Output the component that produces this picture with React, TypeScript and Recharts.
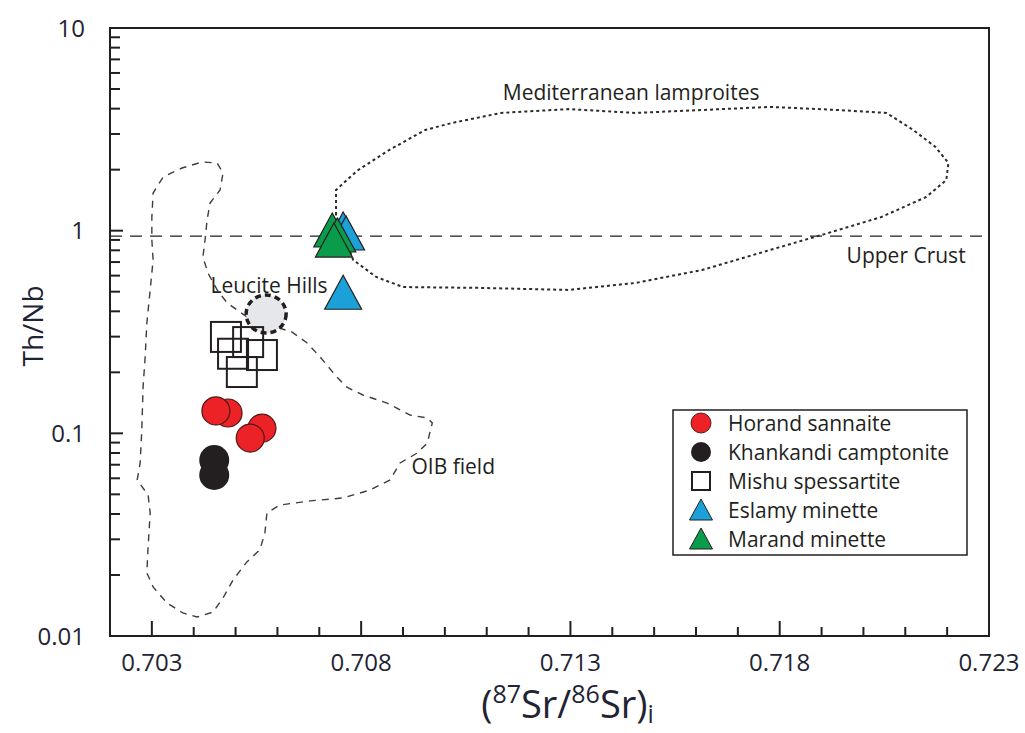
import React from "react";
import {
  ScatterChart,
  Scatter,
  XAxis,
  YAxis,
  Label,
  ReferenceLine,
  ReferenceDot,
  ReferenceArea,
} from "recharts";

const ink = "#231f20";
const tickInk = "#1f2433";
const font = "Open Sans";

// axis ticks
const srTicks = [
  0.702, 0.703, 0.704, 0.705, 0.706, 0.707, 0.708, 0.709, 0.71, 0.711, 0.712,
  0.713, 0.714, 0.715, 0.716, 0.717, 0.718, 0.719, 0.72, 0.721, 0.722, 0.723,
];
const srLabelled = [0.703, 0.708, 0.713, 0.718, 0.723];
const thnbTicks = [
  0.01, 0.02, 0.03, 0.04, 0.05, 0.06, 0.07, 0.08, 0.09,
  0.1, 0.2, 0.3, 0.4, 0.5, 0.6, 0.7, 0.8, 0.9,
  1, 2, 3, 4, 5, 6, 7, 8, 9, 10,
];
const thnbLabelled = [0.01, 0.1, 1, 10];

// samples
const horandSr = [0.70482, 0.70453, 0.70563, 0.70535];
const horandThNb = [0.126, 0.129, 0.106, 0.0948];

const khankandiSr = [0.70449, 0.70449];
const khankandiThNb = [0.0738, 0.0623];

const mishuSr = [0.70477, 0.7053, 0.70494, 0.70563, 0.70515];
const mishuThNb = [0.299, 0.282, 0.247, 0.2434, 0.2007];

const eslamySr = [0.70757, 0.70764, 0.70757];
const eslamyThNb = [0.985, 0.941, 0.48];

const marandSr = [0.70731, 0.70743, 0.70735];
const marandThNb = [0.974, 0.92, 0.869];

// reference fields
const oibSr = [
  0.70527, 0.7048, 0.70456, 0.70434, 0.70422, 0.70427, 0.70432, 0.70439, 0.70463, 0.7047,
  0.70456, 0.7042, 0.70372, 0.70327, 0.70303, 0.703, 0.703, 0.70303, 0.70296, 0.70288,
  0.70284, 0.70279, 0.70276, 0.70272, 0.70265, 0.70291, 0.70296, 0.70291, 0.70288, 0.70303,
  0.70336, 0.70374, 0.70408, 0.70446, 0.7047, 0.70494, 0.70527, 0.70558, 0.7057, 0.70575,
  0.70606, 0.70678, 0.70757, 0.70821, 0.70869, 0.70893, 0.70934, 0.70958, 0.7097, 0.70958,
  0.70917, 0.70862, 0.70804, 0.70766, 0.70742, 0.70702, 0.70671, 0.70635, 0.70582, 0.70527,
];
const oibThNb = [
  0.375, 0.44, 0.51, 0.618, 0.741, 0.899, 1.129, 1.369, 1.587, 1.925,
  2.157, 2.182, 2.038, 1.84, 1.534, 1.168, 0.899, 0.717, 0.51, 0.35,
  0.238, 0.169, 0.1039, 0.0714, 0.0589, 0.0496, 0.0405, 0.0275, 0.0205, 0.01745,
  0.01455, 0.01299, 0.01241, 0.01313, 0.0154, 0.0189, 0.0232, 0.0266, 0.0322, 0.0405,
  0.0443, 0.0464, 0.048, 0.0525, 0.0589, 0.0714, 0.0799, 0.0896, 0.1125, 0.119,
  0.1231, 0.1411, 0.1546, 0.169, 0.1896, 0.238, 0.279, 0.316, 0.342, 0.375,
];

const lampSr = [
  0.7074, 0.7074, 0.70766, 0.70793, 0.70867, 0.70953, 0.71017, 0.71134, 0.71295, 0.71455,
  0.71615, 0.71778, 0.71938, 0.72055, 0.72119, 0.72172, 0.72203, 0.72198, 0.7215, 0.72043,
  0.71916, 0.71777, 0.71615, 0.71455, 0.71295, 0.71082, 0.709, 0.70836, 0.70781, 0.7074,
];
const lampThNb = [
  1.195, 1.587, 1.778, 1.992, 2.5, 3.14, 3.4, 3.81, 3.98, 3.81,
  3.94, 4.08, 3.94, 3.81, 3.14, 2.59, 2.157, 1.778, 1.466, 1.168,
  0.974, 0.803, 0.64, 0.552, 0.51, 0.522, 0.527, 0.591, 0.717, 1.195,
];

const leuciteSr = [0.70573];
const leuciteThNb = [0.388];

const upperCrustThNb = 0.94;

const zip = (xs: number[], ys: number[]) => xs.map((sr, i) => ({ sr, thnb: ys[i] }));

const isOneOf = (v: number, list: number[]) => list.some((t) => Math.abs(t - v) < 1e-9);

const SrTick = (props: any) => {
  const { x, y, payload } = props;
  const major = isOneOf(payload.value, srLabelled);
  return (
    <g>
      <line x1={x} x2={x} y1={y} y2={y - (major ? 15 : 9)} stroke={ink} strokeWidth={2} />
      {major && (
        <text x={x} y={y + 35} textAnchor="middle" fontFamily={font} fontSize={24} fill={tickInk}>
          {String(payload.value)}
        </text>
      )}
    </g>
  );
};

const ThNbTick = (props: any) => {
  const { x, y, payload } = props;
  const major = isOneOf(payload.value, thnbLabelled);
  return (
    <g>
      <line x1={x} x2={x + (major ? 13 : 10)} y1={y} y2={y} stroke={ink} strokeWidth={2} />
      {major && (
        <text x={x - 25} y={y + 8.5} textAnchor="end" fontFamily={font} fontSize={24} fill={tickInk}>
          {String(payload.value)}
        </text>
      )}
    </g>
  );
};

const SrTitle = (props: any) => {
  const { x, width, y } = props.viewBox;
  return (
    <text x={x + width / 2 + 18} y={y + 82} textAnchor="middle" fontFamily={font} fontSize={38} fill={tickInk}>
      (<tspan fontSize={25} dy={-15}>87</tspan>
      <tspan dy={15}>Sr/</tspan>
      <tspan fontSize={25} dy={-15}>86</tspan>
      <tspan dy={15}>Sr)</tspan>
      <tspan fontSize={25} dy={5}>i</tspan>
    </text>
  );
};

const ThNbTitle = (props: any) => {
  const { x, y, height } = props.viewBox;
  const cx = x + 32;
  const cy = y + height / 2 - 6;
  return (
    <text
      x={cx}
      y={cy}
      transform={`rotate(-90 ${cx} ${cy})`}
      textAnchor="middle"
      dominantBaseline="central"
      fontFamily={font}
      fontSize={28}
      fill={tickInk}
    >
      Th/Nb
    </text>
  );
};

const triangle = (cx: number, cy: number, up: number, down: number, half: number) =>
  `${cx},${cy - up} ${cx - half},${cy + down} ${cx + half},${cy + down}`;

const Empty = () => <g />;

const series = [
  { name: "Horand sannaite", kind: "circle", fill: "#ec2227" },
  { name: "Khankandi camptonite", kind: "dot", fill: ink },
  { name: "Mishu spessartite", kind: "square", fill: "none" },
  { name: "Eslamy minette", kind: "triangle", fill: "#1ba0d8" },
  { name: "Marand minette", kind: "triangle", fill: "#0a9c4a" },
];

const LegendMarker = ({ kind, fill, cx, cy }: any) => {
  if (kind === "circle") return <circle cx={cx} cy={cy} r={10} fill={fill} stroke="#5a1b1b" strokeWidth={1} />;
  if (kind === "dot") return <circle cx={cx} cy={cy} r={10} fill={fill} />;
  if (kind === "square")
    return <rect x={cx - 9} y={cy - 9} width={18} height={18} fill="none" stroke={ink} strokeWidth={2} />;
  return <polygon points={triangle(cx, cy, 11, 10, 11.5)} fill={fill} stroke={ink} strokeWidth={1} />;
};

const SampleLegend = () => (
  <svg width={298} height={149} style={{ position: "absolute", left: 671, top: 408 }}>
    <rect x={2} y={2} width={294} height={145} fill="#fff" stroke={ink} strokeWidth={1.5} />
    {series.map((s, i) => (
      <g key={s.name}>
        <LegendMarker kind={s.kind} fill={s.fill} cx={30} cy={15 + i * 29} />
        <text x={57} y={15 + i * 29} dominantBaseline="central" fontFamily={font} fontSize={21} fill={ink}>
          {s.name}
        </text>
      </g>
    ))}
  </svg>
);

const fieldLabel = (value: string) => ({
  value,
  position: "center" as const,
  fontFamily: font,
  fontSize: 21,
  fill: ink,
});

export default function App() {
  return (
    <div style={{ position: "absolute", left: 0, top: 0, width: 1025, height: 733, background: "#fff" }}>
      <ScatterChart width={1025} height={733} margin={{ top: 28, right: 36, bottom: 0, left: 0 }}>
        <XAxis
          type="number"
          dataKey="sr"
          domain={[0.702, 0.723]}
          ticks={srTicks}
          interval={0}
          tickSize={0}
          tickMargin={0}
          tickLine={false}
          tick={<SrTick />}
          axisLine={{ stroke: ink, strokeWidth: 2 }}
          height={97}
          allowDataOverflow
        >
          <Label content={<SrTitle />} />
        </XAxis>
        <YAxis
          type="number"
          dataKey="thnb"
          scale="log"
          domain={[0.01, 10]}
          ticks={thnbTicks}
          interval={0}
          tickSize={0}
          tickMargin={0}
          tickLine={false}
          tick={<ThNbTick />}
          axisLine={{ stroke: ink, strokeWidth: 2 }}
          width={110}
          allowDataOverflow
        >
          <Label content={<ThNbTitle />} />
        </YAxis>

        <ReferenceArea x1={0.702} x2={0.723} y1={0.01} y2={10} fill="none" stroke={ink} strokeWidth={2} />
        <ReferenceLine y={upperCrustThNb} stroke={ink} strokeWidth={1.4} strokeDasharray="12 8" />

        {/* OIB field */}
        <Scatter
          data={zip(oibSr, oibThNb)}
          line={{ stroke: "#3d3d3d", strokeWidth: 1.4, strokeDasharray: "7 6" }}
          lineType="joint"
          shape={<Empty />}
          isAnimationActive={false}
        />
        {/* Mediterranean lamproites */}
        <Scatter
          data={zip(lampSr, lampThNb)}
          line={{ stroke: "#2b2b2b", strokeWidth: 2, strokeDasharray: "3 3" }}
          lineType="joint"
          shape={<Empty />}
          isAnimationActive={false}
        />
        {/* Leucite Hills */}
        <Scatter
          data={zip(leuciteSr, leuciteThNb)}
          isAnimationActive={false}
          shape={(p: any) => (
            <ellipse cx={p.cx} cy={p.cy} rx={20} ry={19} fill="#e6e7ea" stroke={ink} strokeWidth={3.5} strokeDasharray="6 4" />
          )}
        />

        <Scatter
          name="Mishu spessartite"
          data={zip(mishuSr, mishuThNb)}
          isAnimationActive={false}
          shape={(p: any) => (
            <rect x={p.cx - 15} y={p.cy - 15} width={30} height={30} fill="none" stroke={ink} strokeWidth={2} />
          )}
        />
        <Scatter
          name="Horand sannaite"
          data={zip(horandSr, horandThNb)}
          isAnimationActive={false}
          shape={(p: any) => <circle cx={p.cx} cy={p.cy} r={14} fill="#ec2227" stroke="#4a1a1a" strokeWidth={1.2} />}
        />
        <Scatter
          name="Khankandi camptonite"
          data={zip(khankandiSr, khankandiThNb)}
          isAnimationActive={false}
          shape={(p: any) => <circle cx={p.cx} cy={p.cy} r={15} fill={ink} />}
        />
        <Scatter
          name="Eslamy minette"
          data={zip(eslamySr, eslamyThNb)}
          isAnimationActive={false}
          shape={(p: any) => (
            <polygon points={triangle(p.cx, p.cy, 20, 14, 18.5)} fill="#1ba0d8" stroke={ink} strokeWidth={1.2} />
          )}
        />
        <Scatter
          name="Marand minette"
          data={zip(marandSr, marandThNb)}
          isAnimationActive={false}
          shape={(p: any) => (
            <polygon points={triangle(p.cx, p.cy, 20, 14, 18.5)} fill="#0a9c4a" stroke={ink} strokeWidth={1.2} />
          )}
        />

        <ReferenceDot x={0.71445} y={4.83} r={0} fill="none" stroke="none" label={fieldLabel("Mediterranean lamproites")} />
        <ReferenceDot x={0.72102} y={0.754} r={0} fill="none" stroke="none" label={fieldLabel("Upper Crust")} />
        <ReferenceDot x={0.7058} y={0.539} r={0} fill="none" stroke="none" label={fieldLabel("Leucite Hills")} />
        <ReferenceDot x={0.7102} y={0.0682} r={0} fill="none" stroke="none" label={fieldLabel("OIB field")} />
      </ScatterChart>
      <SampleLegend />
    </div>
  );
}
